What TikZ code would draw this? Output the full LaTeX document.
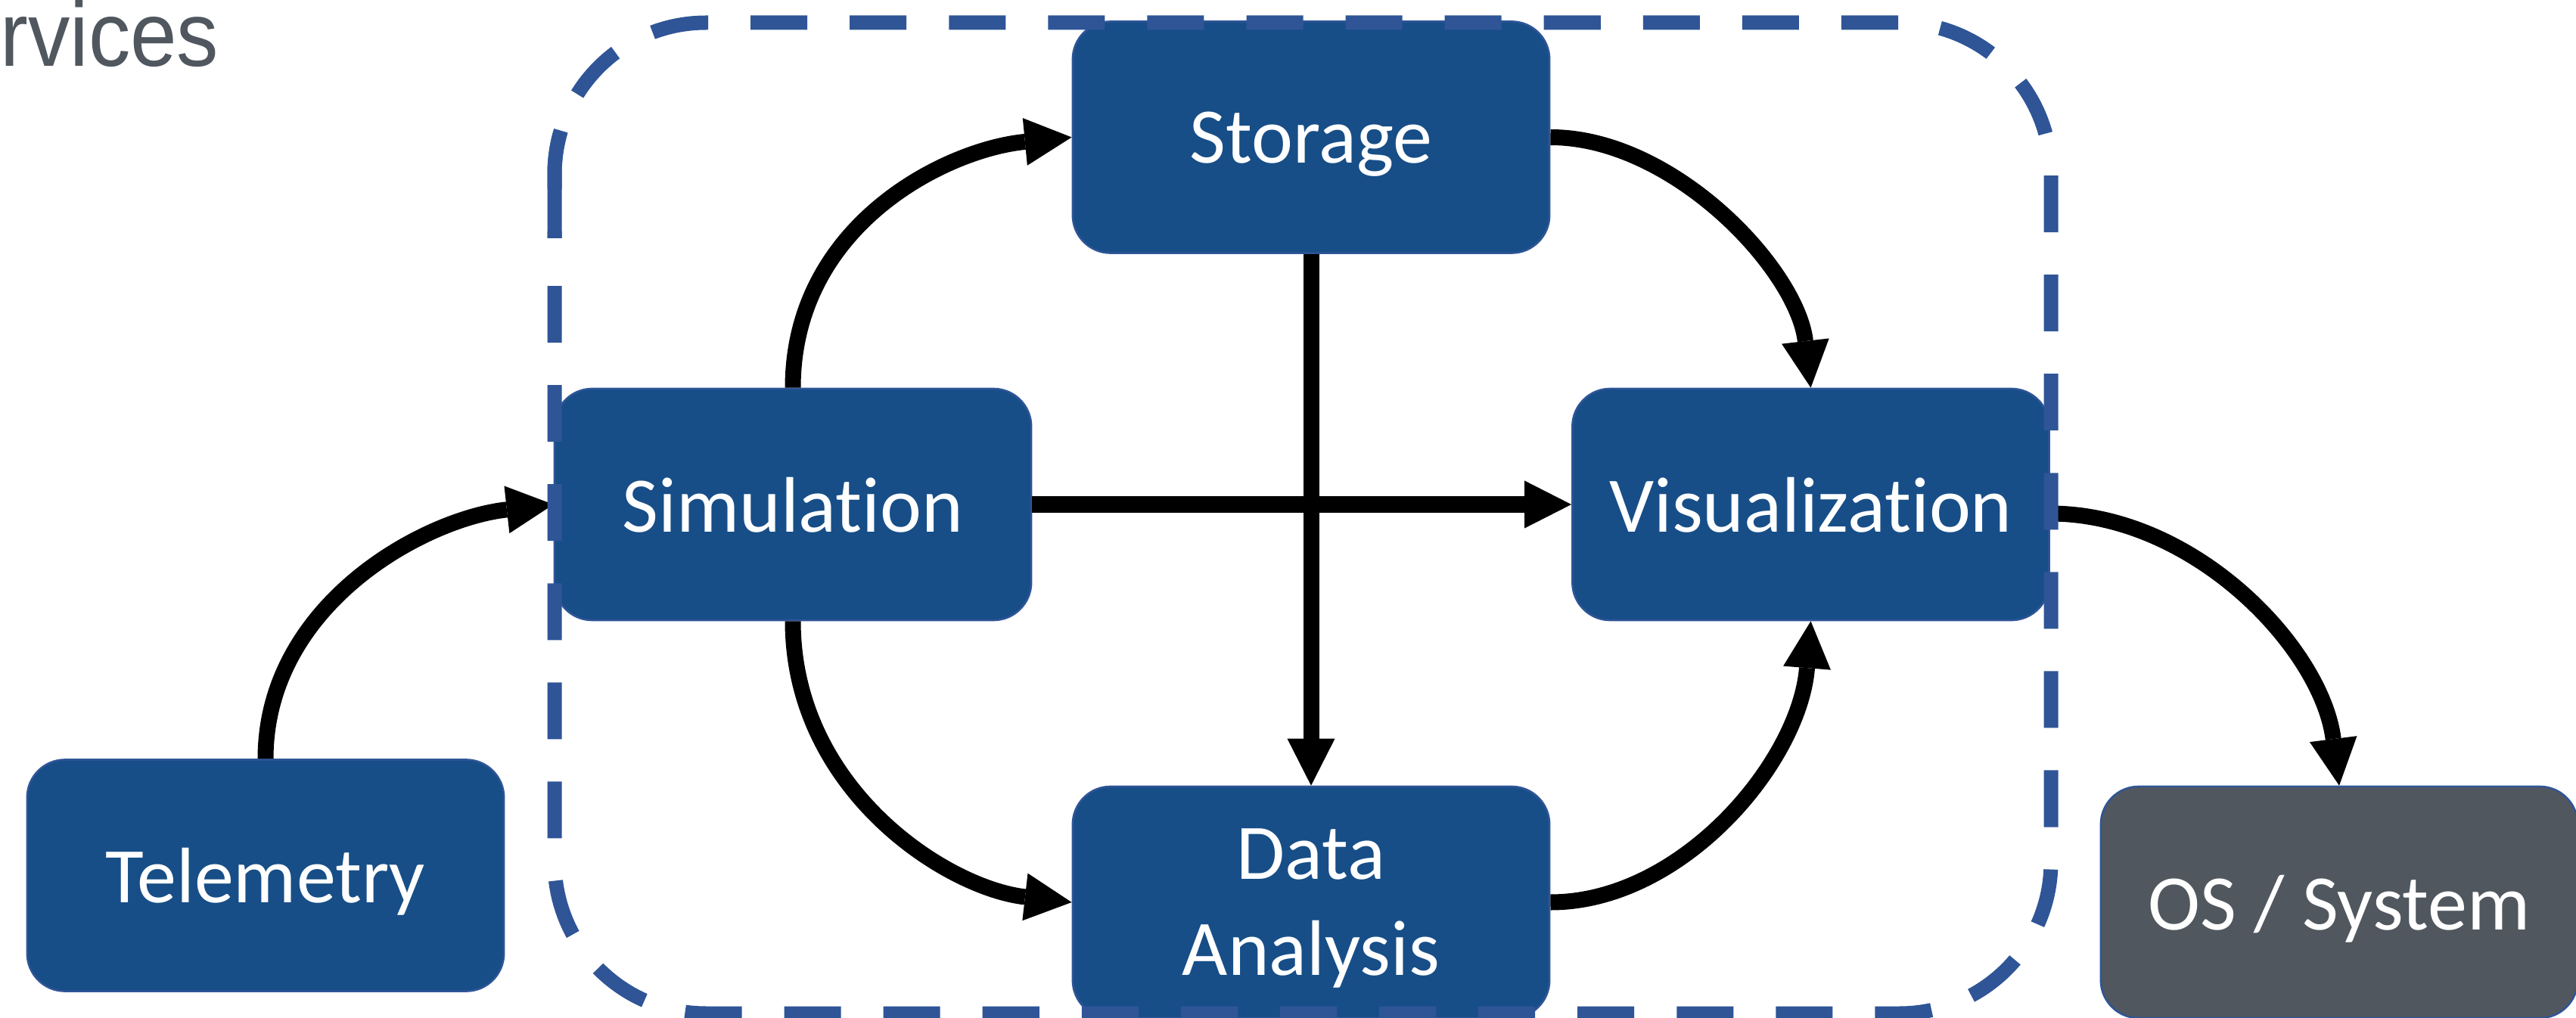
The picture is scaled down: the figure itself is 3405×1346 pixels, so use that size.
\documentclass[tikz,border=0pt]{standalone}
\usepackage{graphicx}
\usepackage{fontspec}
\setmainfont{Carlito}[Ligatures={NoCommon}]
\newfontfamily\svcfont{Liberation Sans}
\usetikzlibrary{arrows.meta}
\definecolor{boxblue}{HTML}{174E87}
\definecolor{dashblue}{HTML}{2F5597}
\definecolor{osgray}{HTML}{50575F}
\begin{document}
\begin{tikzpicture}[x=0.01cm,y=-0.01cm,
  blk/.style={draw=dashblue, line width=0.025cm, fill=boxblue, rounded corners=0.5cm,
    minimum width=6.3cm, minimum height=3.06cm, inner sep=0pt, text=white,
    font=\fontsize{29.6}{36.1}\selectfont, align=center, text depth=0pt},
  osblk/.style={blk, fill=osgray},
  arr/.style={line width=0.21cm, -{Triangle[length=0.62cm,width=0.63cm,line width=0pt]}},
  dashbox/.style={draw=dashblue, line width=0.19cm, dash pattern=on 0.75cm off 0.56cm,
    dash phase=0.66cm, rounded corners=2cm}
]
\useasboundingbox (0,0) rectangle (3405,1346);
\clip (0,0) rectangle (3405,1346);

\node[anchor=base east, inner sep=0pt, text=osgray,
  font=\svcfont\fontsize{34.4}{40}\selectfont] (svc) at (290,88) {\scalebox{0.915}[1]{Services}};

\node[blk] (tel) at (351,1157.5) {Telemetry};
\node[blk] (sim) at (1048,667) {Simulation};
\node[blk] (sto) at (1733,181.5) {Storage};
\node[blk] (vis) at (2393.5,667) {Visualization};
\node[blk] (da) at (1733,1193) {Data\\Analysis};
\node[osblk] (os) at (3092,1193) {OS / System};

\draw[arr] (tel.north) .. controls +(0,-203) and +(-172,19) .. (sim.west);
\draw[arr] (sim.north) .. controls +(0,-215) and +(-166,16) .. (sto.west);
\draw[arr] (sto.east) .. controls +(163,0) and +(-18,-156) .. (vis.north);
\draw[arr] (sim.east) -- (vis.west);
\draw[arr] (sto.south) -- (da.north);
\draw[arr] (sim.south) .. controls +(0,222) and +(-166,-19) .. (da.west);
\draw[arr] (da.east) .. controls +(174,0) and +(-15,186) .. (vis.south);
\draw[arr] ([yshift=-0.12cm]vis.east) .. controls +(191,0) and +(-23,-181) .. (os.north);

% dashed frame: regular dashes, plus the one long dash at the upper left
\draw[dashbox] (733,315) -- (733,30) -- (2711,30) -- (2711,1340) -- (733,1340) -- (733,371);
\draw[dashbox, dash pattern=on 1.43cm off 30cm, dash phase=0cm] (733,315) -- (733,30) -- (1200,30);
\end{tikzpicture}
\end{document}
